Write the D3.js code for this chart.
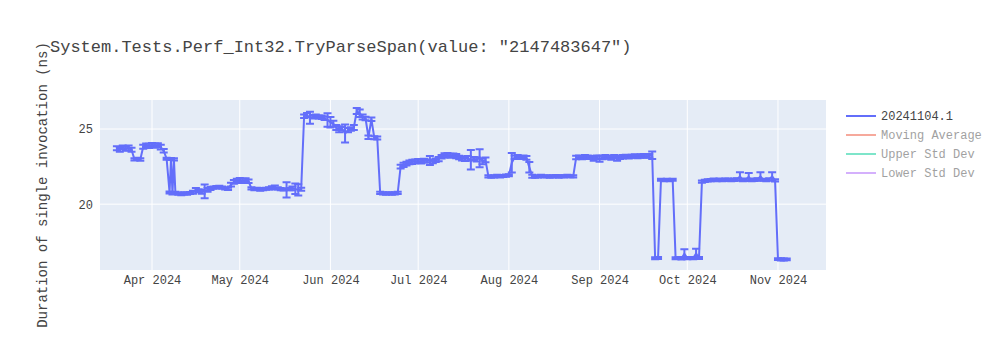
<!DOCTYPE html>
<html>
<head>
<meta charset="utf-8">
<script src="https://cdn.jsdelivr.net/npm/d3@7"></script>
<style>
  body { margin: 0; background: #fff; }
  svg text { font-family: "Liberation Mono", "Courier New", monospace; fill: #444; }
</style>
</head>
<body>
<div id="chart"></div>
<script>
// run 20241104.1 - one point per run day, value = mean duration (ns), error = std dev
const dates = [
  '2024-03-20', '2024-03-21', '2024-03-22', '2024-03-23', '2024-03-24', '2024-03-25', '2024-03-26', '2024-03-27',
  '2024-03-28', '2024-03-29', '2024-03-30', '2024-03-31',
  '2024-04-01', '2024-04-02', '2024-04-03', '2024-04-04', '2024-04-05', '2024-04-06', '2024-04-07', '2024-04-07T12:00',
  '2024-04-08', '2024-04-08T12:00', '2024-04-09', '2024-04-10', '2024-04-11', '2024-04-12', '2024-04-13', '2024-04-14',
  '2024-04-15', '2024-04-16', '2024-04-17', '2024-04-18', '2024-04-19', '2024-04-20', '2024-04-21', '2024-04-22',
  '2024-04-23', '2024-04-24', '2024-04-25', '2024-04-26', '2024-04-27', '2024-04-28', '2024-04-29', '2024-04-30',
  '2024-05-01', '2024-05-02', '2024-05-03', '2024-05-04', '2024-05-05', '2024-05-06', '2024-05-07', '2024-05-08',
  '2024-05-09', '2024-05-10', '2024-05-11', '2024-05-12', '2024-05-13', '2024-05-14', '2024-05-15', '2024-05-16',
  '2024-05-17', '2024-05-18', '2024-05-19', '2024-05-20', '2024-05-21', '2024-05-22', '2024-05-23', '2024-05-24',
  '2024-05-25', '2024-05-26', '2024-05-27', '2024-05-28', '2024-05-29', '2024-05-30', '2024-05-31',
  '2024-06-01', '2024-06-02', '2024-06-03', '2024-06-04', '2024-06-05', '2024-06-06', '2024-06-07', '2024-06-08',
  '2024-06-09', '2024-06-10', '2024-06-11', '2024-06-12', '2024-06-13', '2024-06-14', '2024-06-15', '2024-06-16',
  '2024-06-17', '2024-06-18', '2024-06-19', '2024-06-20', '2024-06-21', '2024-06-22', '2024-06-23', '2024-06-24',
  '2024-06-25', '2024-06-26', '2024-06-27', '2024-06-28', '2024-06-29', '2024-06-30',
  '2024-07-01', '2024-07-02', '2024-07-03', '2024-07-04', '2024-07-05', '2024-07-06', '2024-07-07', '2024-07-08',
  '2024-07-09', '2024-07-10', '2024-07-11', '2024-07-12', '2024-07-13', '2024-07-14', '2024-07-15', '2024-07-16',
  '2024-07-17', '2024-07-18', '2024-07-19', '2024-07-20', '2024-07-21', '2024-07-22', '2024-07-23', '2024-07-24',
  '2024-07-25', '2024-07-26', '2024-07-27', '2024-07-28', '2024-07-29', '2024-07-30', '2024-07-31',
  '2024-08-01', '2024-08-02', '2024-08-03', '2024-08-04', '2024-08-05', '2024-08-06', '2024-08-07', '2024-08-08',
  '2024-08-09', '2024-08-10', '2024-08-11', '2024-08-12', '2024-08-13', '2024-08-14', '2024-08-15', '2024-08-16',
  '2024-08-17', '2024-08-18', '2024-08-19', '2024-08-20', '2024-08-21', '2024-08-22', '2024-08-23', '2024-08-24',
  '2024-08-25', '2024-08-26', '2024-08-27', '2024-08-28', '2024-08-29', '2024-08-30', '2024-08-31',
  '2024-09-01', '2024-09-02', '2024-09-03', '2024-09-04', '2024-09-05', '2024-09-06', '2024-09-07', '2024-09-08',
  '2024-09-09', '2024-09-10', '2024-09-11', '2024-09-12', '2024-09-13', '2024-09-14', '2024-09-15', '2024-09-16',
  '2024-09-17', '2024-09-18', '2024-09-19', '2024-09-20', '2024-09-21', '2024-09-22', '2024-09-23', '2024-09-24',
  '2024-09-25', '2024-09-26', '2024-09-27', '2024-09-28', '2024-09-29', '2024-09-30',
  '2024-10-01', '2024-10-02', '2024-10-03', '2024-10-04', '2024-10-05', '2024-10-06', '2024-10-07', '2024-10-08',
  '2024-10-09', '2024-10-10', '2024-10-11', '2024-10-12', '2024-10-13', '2024-10-14', '2024-10-15', '2024-10-16',
  '2024-10-17', '2024-10-18', '2024-10-19', '2024-10-20', '2024-10-21', '2024-10-22', '2024-10-23', '2024-10-24',
  '2024-10-25', '2024-10-26', '2024-10-27', '2024-10-28', '2024-10-29', '2024-10-30', '2024-10-31',
  '2024-11-01', '2024-11-02', '2024-11-03', '2024-11-04'
];

const durations = [
  23.72, 23.65, 23.78, 23.70, 23.75, 23.62, 22.98, 23.02,
  22.97, 23.82, 23.92, 23.88,
  23.95, 23.90, 23.93, 23.80, 23.55, 23.02, 20.78, 23.00,
  20.72, 22.98, 20.75, 20.70, 20.68, 20.72, 20.70, 20.74,
  20.80, 20.95, 20.90, 20.82, 20.85, 20.95, 21.05, 21.10,
  21.13, 21.15, 21.10, 21.05, 21.02, 21.30, 21.48, 21.55,
  21.62, 21.55, 21.60, 21.52, 21.05, 21.00, 21.02, 20.98,
  21.00, 21.03, 21.05, 21.10, 21.12, 21.05, 21.00, 20.98,
  20.95, 21.00, 21.05, 21.02, 20.95, 21.00, 25.85, 25.92,
  25.75, 25.82, 25.85, 25.80, 25.78, 25.72, 25.60,
  25.45, 25.35, 25.10, 24.98, 25.02, 24.70, 24.92, 25.00,
  25.10, 26.20, 26.05, 25.80, 25.70, 24.45, 25.65, 24.42,
  24.40, 20.75, 20.72, 20.70, 20.73, 20.70, 20.72, 20.75,
  22.50, 22.62, 22.70, 22.78, 22.82, 22.85,
  22.88, 22.85, 22.90, 22.87, 22.90, 22.85, 22.92, 23.00,
  23.15, 23.25, 23.28, 23.22, 23.25, 23.20, 23.10, 23.05,
  23.00, 23.05, 22.95, 23.02, 22.98, 23.05, 22.85, 22.95,
  21.85, 21.82, 21.85, 21.88, 21.85, 21.87, 21.90,
  21.92, 22.75, 23.12, 23.15, 23.10, 23.12, 23.08, 22.45,
  21.85, 21.82, 21.85, 21.88, 21.84, 21.86, 21.83, 21.85,
  21.87, 21.84, 21.86, 21.85, 21.88, 21.86, 21.85, 23.10,
  23.12, 23.08, 23.15, 23.12, 23.10, 23.05, 23.12,
  23.02, 23.10, 23.15, 23.12, 23.08, 23.15, 23.05, 23.12,
  23.15, 23.18, 23.15, 23.18, 23.20, 23.15, 23.20, 23.22,
  23.18, 23.22, 23.25, 16.40, 16.42, 21.62, 21.60, 21.62,
  21.60, 21.62, 16.40, 16.42, 16.38, 16.70,
  16.40, 16.42, 16.40, 16.72, 16.42, 21.50, 21.55, 21.58,
  21.60, 21.62, 21.60, 21.62, 21.60, 21.62, 21.63, 21.60,
  21.62, 21.65, 21.85, 21.60, 21.62, 21.82, 21.60, 21.62,
  21.65, 21.85, 21.62, 21.60, 21.65, 21.85, 21.58,
  16.35, 16.33, 16.32, 16.33
];

const stdDevs = [
  0.14, 0.16, 0.12, 0.14, 0.16, 0.14, 0.08, 0.07,
  0.08, 0.14, 0.12, 0.14,
  0.12, 0.14, 0.12, 0.16, 0.12, 0.07, 0.07, 0.07,
  0.07, 0.07, 0.08, 0.07, 0.08, 0.07, 0.08, 0.07,
  0.10, 0.12, 0.10, 0.12, 0.45, 0.12, 0.10, 0.08,
  0.08, 0.07, 0.07, 0.07, 0.07, 0.12, 0.12, 0.14,
  0.12, 0.14, 0.12, 0.12, 0.07, 0.07, 0.07, 0.08,
  0.07, 0.07, 0.08, 0.10, 0.12, 0.07, 0.08, 0.07,
  0.50, 0.08, 0.12, 0.35, 0.38, 0.10, 0.12, 0.14,
  0.40, 0.12, 0.12, 0.10, 0.12, 0.12, 0.45,
  0.35, 0.20, 0.16, 0.20, 0.12, 0.60, 0.14, 0.12,
  0.16, 0.20, 0.25, 0.16, 0.12, 0.12, 0.12, 0.10,
  0.10, 0.08, 0.07, 0.07, 0.07, 0.08, 0.07, 0.07,
  0.12, 0.14, 0.12, 0.12, 0.14, 0.12,
  0.12, 0.14, 0.12, 0.10, 0.30, 0.12, 0.12, 0.14,
  0.12, 0.14, 0.12, 0.14, 0.12, 0.14, 0.12, 0.14,
  0.12, 0.16, 0.65, 0.12, 0.14, 0.60, 0.20, 0.16,
  0.08, 0.07, 0.07, 0.08, 0.07, 0.07, 0.08,
  0.07, 0.65, 0.12, 0.12, 0.10, 0.12, 0.12, 0.35,
  0.10, 0.07, 0.07, 0.08, 0.07, 0.07, 0.08, 0.07,
  0.07, 0.08, 0.07, 0.07, 0.08, 0.07, 0.07, 0.12,
  0.12, 0.10, 0.12, 0.12, 0.10, 0.16, 0.12,
  0.20, 0.12, 0.12, 0.10, 0.12, 0.12, 0.16, 0.12,
  0.12, 0.10, 0.12, 0.10, 0.12, 0.10, 0.12, 0.12,
  0.10, 0.12, 0.25, 0.06, 0.06, 0.07, 0.07, 0.07,
  0.07, 0.07, 0.06, 0.06, 0.06, 0.30,
  0.06, 0.06, 0.06, 0.32, 0.06, 0.07, 0.07, 0.07,
  0.07, 0.08, 0.07, 0.08, 0.07, 0.08, 0.07, 0.07,
  0.08, 0.07, 0.28, 0.07, 0.08, 0.25, 0.07, 0.08,
  0.07, 0.28, 0.07, 0.08, 0.07, 0.28, 0.07,
  0.06, 0.07, 0.06, 0.06
];

const monthTicks = ['2024-04-01', '2024-05-01', '2024-06-01', '2024-07-01', '2024-08-01', '2024-09-01', '2024-10-01', '2024-11-01'];
const yTicks = [20, 25];
const legendNames = ['20241104.1', 'Moving Average', 'Upper Std Dev', 'Lower Std Dev'];
const legendColors = ['#636efa', '#EF553B', '#00cc96', '#ab63fa'];
const legendVisible = [true, false, false, false];

const chartTitle = 'System.Tests.Perf_Int32.TryParseSpan(value: "2147483647")';
const yTitle = 'Duration of single invocation (ns)';

const width = 1000;
const height = 350;
const margin = {top: 100, right: 174, bottom: 80, left: 100};
const plotW = width - margin.left - margin.right;
const plotH = height - margin.top - margin.bottom;

const parseDate = (s) => d3.isoParse(s.length === 10 ? s + 'T00:00Z' : s + 'Z');

const points = dates.map((d, i) => ({x: parseDate(d), y: durations[i], e: stdDevs[i]}));

const svg = d3.select('#chart').append('svg')
  .attr('width', width)
  .attr('height', height);

// axis ranges (autorange of the original, padded past the first/last run)
const xScale = d3.scaleUtc()
  .domain([parseDate('2024-03-14T05:20'), parseDate('2024-11-17T10:00')])
  .range([0, plotW]);

const yScale = d3.scaleLinear()
  .domain([15.62, 26.93])
  .range([plotH, 0]);

const g = svg.append('g')
  .attr('transform', 'translate(' + margin.left + ',' + margin.top + ')');

g.append('rect')
  .attr('width', plotW)
  .attr('height', plotH)
  .attr('fill', '#e5ecf6');

// gridlines
const xTickDates = monthTicks.map(parseDate);
g.append('g')
  .selectAll('line')
  .data(xTickDates)
  .enter().append('line')
  .attr('x1', (d) => xScale(d)).attr('x2', (d) => xScale(d))
  .attr('y1', 0).attr('y2', plotH)
  .attr('stroke', '#fff').attr('stroke-width', 1);
g.append('g')
  .selectAll('line')
  .data(yTicks)
  .enter().append('line')
  .attr('x1', 0).attr('x2', plotW)
  .attr('y1', (d) => yScale(d)).attr('y2', (d) => yScale(d))
  .attr('stroke', '#fff').attr('stroke-width', 1);

// axes (ticks only, no domain line)
const xAxis = g.append('g')
  .attr('transform', 'translate(0,' + plotH + ')')
  .call(d3.axisBottom(xScale).tickValues(xTickDates).tickFormat(d3.utcFormat('%b %Y')).tickSize(0).tickPadding(5));
const yAxis = g.append('g')
  .call(d3.axisLeft(yScale).tickValues(yTicks).tickSize(0).tickPadding(7));
[xAxis, yAxis].forEach((a) => {
  a.select('.domain').remove();
  a.selectAll('text').style('font-size', '12px').attr('fill', '#444')
    .style('font-family', '"Liberation Mono", "Courier New", monospace');
});

// clip plot marks
svg.append('defs').append('clipPath').attr('id', 'plot-clip')
  .append('rect').attr('width', plotW).attr('height', plotH);
const plotGroup = g.append('g').attr('clip-path', 'url(#plot-clip)');

const color = legendColors[0];

// line
const line = d3.line()
  .x((d) => xScale(d.x))
  .y((d) => yScale(d.y));
plotGroup.append('path')
  .datum(points)
  .attr('d', line)
  .attr('fill', 'none')
  .attr('stroke', color)
  .attr('stroke-width', 2)
  .attr('stroke-linejoin', 'round');

// error bars
const capHalf = 4;
const errs = plotGroup.append('g').attr('class', 'error-bars');
errs.selectAll('path')
  .data(points)
  .enter().append('path')
  .attr('d', (d) => {
    const x = xScale(d.x);
    const y0 = yScale(d.y - d.e);
    const y1 = yScale(d.y + d.e);
    return 'M' + (x - capHalf) + ',' + y1 + 'H' + (x + capHalf) +
      'M' + x + ',' + y1 + 'V' + y0 +
      'M' + (x - capHalf) + ',' + y0 + 'H' + (x + capHalf);
  })
  .attr('fill', 'none')
  .attr('stroke', color)
  .attr('stroke-width', 2);

// title
svg.append('text')
  .attr('x', 50)
  .attr('y', 52)
  .style('font-size', '17px')
  .text(chartTitle);

// y axis title
svg.append('text')
  .attr('transform', 'translate(47,' + (margin.top + plotH / 2) + ') rotate(-90)')
  .attr('text-anchor', 'middle')
  .style('font-size', '14px')
  .text(yTitle);

// legend
const legend = svg.append('g').attr('transform', 'translate(846,116)');
legendNames.forEach((name, i) => {
  const row = legend.append('g')
    .attr('transform', 'translate(0,' + (i * 19) + ')')
    .attr('opacity', legendVisible[i] ? 1 : 0.5);
  row.append('line')
    .attr('x1', 0).attr('x2', 30)
    .attr('y1', 0).attr('y2', 0)
    .attr('stroke', legendColors[i])
    .attr('stroke-width', 2);
  row.append('text')
    .attr('x', 35)
    .attr('y', 4)
    .style('font-size', '12px')
    .text(name);
});
</script>
</body>
</html>
